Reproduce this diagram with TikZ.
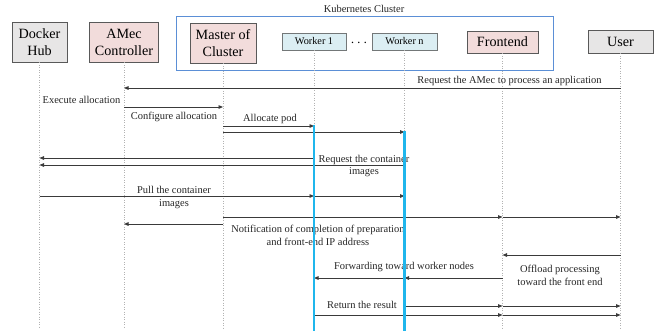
\documentclass[tikz,border=0pt]{standalone}
\usepackage{fontspec}
\setmainfont{Liberation Serif}
\usetikzlibrary{arrows.meta}
\definecolor{boxgray}{HTML}{E7E6E6}
\definecolor{boxpink}{HTML}{F2DCDB}
\definecolor{boxblue}{HTML}{DBEEF3}
\definecolor{edgegray}{HTML}{595959}
\definecolor{k8sblue}{HTML}{5B8FD6}
\definecolor{actblue}{HTML}{1FB6EC}
\definecolor{msggray}{HTML}{3A3A3A}
\begin{document}
\begin{tikzpicture}[x=1bp,y=-1bp,
  actor/.style={draw=edgegray,line width=0.9bp,inner sep=0pt,font=\fontsize{14.2}{17}\selectfont,align=center},
  worker/.style={draw=edgegray!80!boxblue,fill=boxblue,line width=0.8bp,inner sep=0pt,font=\fontsize{10.3}{12}\selectfont},
  life/.style={draw=gray!60,dotted,line width=0.5bp},
  act/.style={draw=actblue,line width=2.4bp},
  msg/.style={draw=msggray,line width=0.9bp,-{Triangle[length=4.5bp,width=3.6bp]}},
  lbl/.style={font=\fontsize{10.5}{13}\selectfont,align=center,inner sep=0pt,text=black!85}]
\useasboundingbox (0,0) rectangle (660,331);
% Kubernetes cluster frame
\node[draw=k8sblue,line width=1bp,minimum width=377bp,minimum height=54bp,inner sep=0pt] (k8s) at (364.5,43) {};
\node[lbl] (k8slabel) at (364,9) {Kubernetes Cluster};
% actors
\node[actor,fill=boxgray,minimum width=55bp,minimum height=40bp] (dh) at (39.5,42) {Docker\\Hub};
\node[actor,fill=boxpink,minimum width=69bp,minimum height=40bp] (amec) at (124,42) {AMec\\Controller};
\node[actor,fill=boxpink,minimum width=66bp,minimum height=40bp] (master) at (223,43) {Master of\\Cluster};
\node[worker,minimum width=64bp,minimum height=17bp] (w1) at (314,41.5) {Worker 1};
\node[worker,minimum width=65bp,minimum height=17bp] (wn) at (404.5,41.5) {Worker n};
\node[font=\fontsize{14}{14}\selectfont,inner sep=0pt] (dots) at (359,43.5) {$\cdots$};
\node[actor,fill=boxpink,minimum width=71bp,minimum height=22bp] (fe) at (502.5,42) {Frontend};
\node[actor,fill=boxgray,minimum width=65bp,minimum height=23bp] (user) at (620.5,41.5) {User};
% bottom anchors of lifelines
\coordinate (bot) at (0,329);
\foreach \n in {dh,amec,master,w1,wn,fe,user}{
  \draw[life] (\n.south) -- (\n.south |- bot);
}
% message levels
\coordinate (y1) at (0,88);
\coordinate (y2) at (0,107);
\coordinate (y3) at (0,126);
\coordinate (y4) at (0,132);
\coordinate (y5) at (0,158);
\coordinate (y6) at (0,165);
\coordinate (y7) at (0,196);
\coordinate (y8) at (0,217);
\coordinate (y9) at (0,224);
\coordinate (y10) at (0,255);
\coordinate (y11) at (0,278);
\coordinate (y12) at (0,306);
\coordinate (y13) at (0,315);
% messages
\draw[msg] (user |- y1) -- (amec |- y1);
\draw[msg] (amec |- y2) -- (master |- y2);
\draw[msg] (master |- y3) -- (w1 |- y3);
\draw[msg] (master |- y4) -- (wn |- y4);
\draw[msg] (w1 |- y5) -- (dh |- y5);
\draw[msg] (wn |- y6) -- (dh |- y6);
\draw[msg] (dh |- y7) -- (w1 |- y7);
\draw[msg] (w1 |- y7) -- (wn |- y7);
\draw[msg] (master |- y8) -- (fe |- y8);
\draw[msg] (fe |- y8) -- (user |- y8);
\draw[msg] (master |- y9) -- (amec |- y9);
\draw[msg] (user |- y10) -- (fe |- y10);
\draw[msg] (fe |- y11) -- (wn |- y11);
\draw[msg] (wn |- y11) -- (w1 |- y11);
\draw[msg] (wn |- y12) -- (fe |- y12);
\draw[msg] (fe |- y12) -- (user |- y12);
\draw[msg] (w1 |- y13) -- (fe |- y13);
\draw[msg] (fe |- y13) -- (user |- y13);
% labels
\node[lbl] (l1) at (509.5,80.5) {Request the AMec to process an application};
\node[lbl] (l2) at (81.5,100) {Execute allocation};
\node[lbl] (l3) at (174,117) {Configure allocation};
\node[lbl] (l4) at (270,119) {Allocate pod};
\node[lbl] (l5) at (364,166) {Request the container\\images};
\node[lbl] (l6) at (174,197.5) {Pull the container\\images};
\node[lbl] (l7) at (318,235) {Notification of completion of preparation\\and front-end IP address};
\node[lbl] (l8) at (404,267) {Forwarding toward worker nodes};
\node[lbl] (l9) at (560,275) {Offload processing\\toward the front end};
\node[lbl] (l10) at (362,305) {Return the result};
% activations
\coordinate (a1) at (0,124.5);
\coordinate (a2) at (0,130.5);
\draw[act] (w1 |- a1) -- (w1 |- 0,331);
\draw[act] (wn |- a2) -- (wn |- 0,331);
\end{tikzpicture}
\end{document}
